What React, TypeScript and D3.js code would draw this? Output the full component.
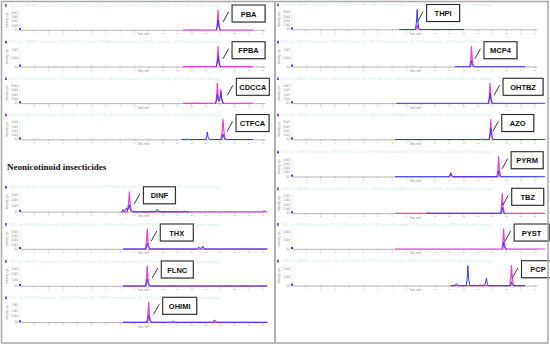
import React from "react";
import * as d3 from "d3";

type Pt = [number, number];

// ---------- DATA ----------
const leftNames = ["PBA", "FPBA", "CDCCA", "CTFCA", "DINF", "THX", "FLNC", "OHIMI"];
const rightNames = ["THPI", "MCP4", "OHTBZ", "AZO", "PYRM", "TBZ", "PYST", "PCP"];

const leftPeakTimes = [13.85, 13.85, 13.8, 14.2, 7.65, 8.9, 8.9, 9.0];
const rightPeakTimes = [8.75, 12.55, 13.85, 13.9, 14.45, 14.7, 14.8, 15.35];

const sectionTitle = "Neonicotinoid insecticides";
const xTickValues = [1, 2, 3, 4, 5, 6, 7, 8, 9, 10, 11, 12, 13, 14, 15, 16, 17];

// quantifier transition (pink) per panel
const leftPink: Pt[][] = [
  [[11.4, 0], [12.5, 0.01], [12.6, 0], [13.73, 0], [13.8, 0.35], [13.85, 1], [13.9, 0.4], [13.97, 0.06], [14.05, 0], [16.3, 0]],
  [[11.4, 0], [13.73, 0], [13.8, 0.35], [13.85, 1], [13.9, 0.4], [13.97, 0.06], [14.05, 0], [16.3, 0]],
  [[11.4, 0], [12.6, 0.01], [12.7, 0], [13.68, 0], [13.75, 0.35], [13.8, 1], [13.86, 0.3], [13.93, 0.12], [13.99, 0.32], [14.05, 0.68], [14.1, 0.25], [14.18, 0.03], [14.25, 0], [16.3, 0]],
  [[14.05, 0], [14.13, 0.35], [14.2, 1], [14.26, 0.4], [14.33, 0.06], [14.4, 0]],
  [[7.1, 0], [7.5, 0], [7.58, 0.35], [7.65, 1], [7.7, 0.4], [7.78, 0.05], [7.9, 0], [10.2, 0.01], [10.3, 0], [17.0, 0], [17.08, 0.06], [17.15, 0], [17.3, 0]],
  [[7.2, 0], [8.77, 0], [8.84, 0.35], [8.9, 1], [8.95, 0.35], [9.03, 0.05], [9.1, 0], [17.3, 0]],
  [[7.2, 0], [8.77, 0], [8.84, 0.35], [8.9, 1], [8.95, 0.35], [9.03, 0.05], [9.1, 0], [17.3, 0]],
  [[7.2, 0], [8.87, 0], [8.94, 0.35], [9.0, 1], [9.05, 0.35], [9.13, 0.05], [9.2, 0], [17.3, 0]],
];

// qualifier transition (blue) per panel
const leftBlue: Pt[][] = [
  [[13.73, 0], [13.8, 0.18], [13.85, 0.5], [13.9, 0.2], [13.97, 0.03], [14.05, 0]],
  [[13.73, 0], [13.8, 0.2], [13.85, 0.55], [13.9, 0.22], [13.97, 0.03], [14.05, 0]],
  [[13.68, 0], [13.75, 0.15], [13.8, 0.45], [13.86, 0.14], [13.93, 0.1], [13.99, 0.25], [14.05, 0.55], [14.1, 0.2], [14.18, 0.02], [14.25, 0]],
  [[11.3, 0], [11.8, 0.01], [11.9, 0], [13.0, 0], [13.05, 0.12], [13.1, 0.38], [13.15, 0.12], [13.22, 0.02], [13.3, 0], [14.1, 0], [14.15, 0.1], [14.2, 0.28], [14.26, 0.1], [14.35, 0], [16.3, 0]],
  [[7.1, 0], [7.15, 0.06], [7.2, 0.12], [7.25, 0.03], [7.35, 0.05], [7.45, 0.2], [7.52, 0.06], [7.58, 0.18], [7.65, 0.35], [7.72, 0.1], [7.85, 0], [9.0, 0], [9.1, 0.03], [9.2, 0], [9.5, 0.02], [9.6, 0.12], [9.7, 0.03], [9.85, 0], [11.4, 0], [11.5, 0.03], [11.6, 0], [11.8, 0]],
  [[7.2, 0], [8.8, 0], [8.85, 0.12], [8.9, 0.3], [8.96, 0.12], [9.05, 0.02], [9.15, 0], [12.35, 0], [12.45, 0.08], [12.5, 0.1], [12.57, 0.03], [12.7, 0.05], [12.78, 0.15], [12.85, 0.04], [12.95, 0], [17.3, 0]],
  [[7.2, 0], [8.8, 0], [8.85, 0.14], [8.9, 0.35], [8.96, 0.12], [9.05, 0.02], [9.15, 0], [12.55, 0], [12.6, 0.02], [12.65, 0], [17.3, 0]],
  [[7.2, 0], [8.9, 0], [8.95, 0.14], [9.0, 0.35], [9.06, 0.12], [9.15, 0.02], [9.25, 0], [10.6, 0], [10.7, 0.05], [10.8, 0], [13.5, 0], [13.6, 0.12], [13.7, 0.02], [13.8, 0], [17.3, 0]],
];

const rightPink: Pt[][] = [
  [[8.65, 0], [8.7, 0.08], [8.75, 0.22], [8.8, 0.08], [8.88, 0]],
  [[12.43, 0], [12.5, 0.35], [12.55, 1], [12.6, 0.4], [12.67, 0.05], [12.75, 0]],
  [[13.73, 0], [13.8, 0.35], [13.85, 1], [13.9, 0.4], [13.97, 0.05], [14.05, 0]],
  [[13.78, 0], [13.85, 0.35], [13.9, 1], [13.95, 0.4], [14.02, 0.05], [14.1, 0]],
  [[10.98, 0], [11.05, 0.06], [11.1, 0.15], [11.16, 0.05], [11.25, 0], [14.33, 0], [14.4, 0.35], [14.45, 1], [14.5, 0.4], [14.57, 0.05], [14.65, 0]],
  [[7.2, 0], [14.58, 0], [14.65, 0.35], [14.7, 1], [14.75, 0.4], [14.82, 0.05], [14.9, 0], [17.7, 0]],
  [[7.2, 0], [14.68, 0], [14.75, 0.35], [14.8, 1], [14.85, 0.4], [14.92, 0.05], [15.0, 0], [17.7, 0]],
  [[11.1, 0], [15.23, 0], [15.3, 0.35], [15.35, 1], [15.4, 0.4], [15.47, 0.05], [15.55, 0], [16.3, 0]],
];

const rightBlue: Pt[][] = [
  [[7.5, 0], [8.63, 0], [8.7, 0.35], [8.75, 1], [8.8, 0.4], [8.87, 0.05], [8.95, 0], [12.0, 0]],
  [[11.4, 0], [12.48, 0], [12.52, 0.1], [12.55, 0.3], [12.6, 0.1], [12.68, 0.02], [12.75, 0], [16.3, 0]],
  [[7.3, 0], [13.75, 0], [13.8, 0.18], [13.85, 0.5], [13.9, 0.2], [13.97, 0.03], [14.05, 0], [17.7, 0]],
  [[7.2, 0], [13.2, 0], [13.3, 0.03], [13.4, 0], [13.8, 0], [13.85, 0.2], [13.9, 0.55], [13.95, 0.2], [14.02, 0.03], [14.1, 0], [17.7, 0]],
  [[7.2, 0], [10.98, 0], [11.05, 0.08], [11.1, 0.2], [11.16, 0.07], [11.25, 0], [14.38, 0], [14.42, 0.1], [14.45, 0.3], [14.5, 0.1], [14.57, 0.02], [14.65, 0], [17.7, 0]],
  [[9.4, 0], [9.5, 0.02], [9.6, 0], [14.63, 0], [14.67, 0.1], [14.7, 0.3], [14.75, 0.1], [14.82, 0.02], [14.9, 0]],
  [[14.73, 0], [14.77, 0.12], [14.8, 0.35], [14.85, 0.12], [14.92, 0.02], [15.0, 0]],
  [[11.1, 0], [11.4, 0], [11.5, 0.1], [11.6, 0.03], [11.7, 0], [12.18, 0], [12.25, 0.35], [12.3, 1], [12.35, 0.35], [12.42, 0.05], [12.5, 0], [12.8, 0.02], [12.9, 0], [13.2, 0.03], [13.3, 0], [13.5, 0.05], [13.6, 0.38], [13.66, 0.08], [13.75, 0], [15.3, 0], [15.35, 0.2], [15.4, 0.06], [15.5, 0], [16.3, 0]],
];

const leftYTicks: string[][] = [
  ["0.0", "2.0e5", "4.0e5", "6.0e5", "8.0e5"],
  ["0.0", "5.0e4", "1.0e5"],
  ["0.0", "2.0e4", "4.0e4", "6.0e4", "8.0e4"],
  ["0.0", "1.0e4", "2.0e4", "3.0e4", "4.0e4"],
  ["0.0", "1.0e5", "2.0e5", "3.0e5"],
  ["0.0", "2.0e5", "4.0e5", "6.0e5", "8.0e5"],
  ["0.0", "1.0e5", "2.0e5", "3.0e5"],
  ["0.0", "5.0e4", "1.0e5", "1.5e5"],
];
const rightYTicks: string[][] = [
  ["0.0", "2.0e4", "4.0e4", "6.0e4", "8.0e4"],
  ["0.0", "5.0e4", "1.0e5"],
  ["0.0", "1.0e5", "2.0e5", "3.0e5", "4.0e5"],
  ["0.0", "2.0e5", "4.0e5", "6.0e5", "8.0e5"],
  ["0.0", "1.0e5", "2.0e5", "3.0e5", "4.0e5"],
  ["0.0", "5.0e4", "1.0e5", "1.5e5", "2.0e5"],
  ["0.0", "2.0e4", "4.0e4"],
  ["0.0", "1.0e4", "2.0e4"],
];

const leftTransitions = ["213.0/169.0", "231.0/187.0", "279.0/235.0", "241.0/197.0", "203.1/129.1", "292.0/211.0", "214.0/158.0", "272.0/225.0"];
const rightTransitions = ["152.0/82.0", "199.0/141.0", "218.0/191.0", "404.1/372.1", "299.0/72.0", "202.0/175.0", "296.1/226.1", "264.9/34.9"];

// ---------- LAYOUT ----------
const leftBaselines = [30, 66.7, 103.3, 139.5, 211.8, 249, 286, 322.3];
const rightBaselines = [29.5, 66.7, 103.3, 139.5, 176.7, 213.3, 249, 285.7];
const leftBoxDx = [14, 14, 19, 13, 14, 13, 14, 14];
const leftBoxW = [33, 33, 33, 33, 32, 33, 32, 34];
const rightBoxDx = [9.5, 12.5, 13, 11, 12.5, 9.5, 10.5, 10];
const rightBoxW = [33, 33, 40, 32, 32, 32, 35, 33];

const PINK = "#f03fd2";
const BLUE = "#3838f0";
const AXIS = "#9a9a9a";
const PX_PER_MIN = 14.3;

type PanelProps = {
  name: string;
  baseline: number;
  x0: number;
  pink: Pt[];
  blue: Pt[];
  peak: number;
  boxDx: number;
  boxW: number;
  yTicks: string[];
  transition: string;
  idx: number;
};

function Panel(p: PanelProps) {
  const x = d3.scaleLinear().domain([0, 17]).range([p.x0, p.x0 + 17 * PX_PER_MIN]);
  const y = d3.scaleLinear().domain([0, 1]).range([p.baseline, p.baseline - 20]);
  const line = d3
    .line<Pt>()
    .x((d) => x(d[0]))
    .y((d) => y(d[1]));
  const px = x(p.peak);
  const bx = px + p.boxDx;
  const by = p.baseline - 25;
  const n = p.yTicks.length;
  return (
    <g>
      {/* header */}
      <rect x={p.x0 - 15} y={p.baseline - 26} width={2} height={1.3} fill={PINK} />
      <rect x={p.x0 - 15} y={p.baseline - 24.7} width={2} height={1.3} fill={BLUE} />
      <text
        x={p.x0 - 10}
        y={p.baseline - 23.5}
        fontSize={3.2}
        fill="#d0eedc"
        fontFamily="Liberation Sans, Arial, sans-serif"
        textLength={210}
        lengthAdjust="spacingAndGlyphs"
      >
        {`XIC of -MRM (16 pairs): ${p.transition} Da ID: ${p.name} from Sample ${p.idx + 3} (STD) of Data_2019.wiff (Turbo Spray)`}
      </text>
      {/* y axis */}
      <line x1={p.x0} x2={p.x0} y1={p.baseline - 20} y2={p.baseline} stroke="#d8d8d8" strokeWidth={0.5} />
      {p.yTicks.map((t, i) => (
        <text
          key={i}
          x={p.x0 - 2}
          y={p.baseline - (i * 17) / Math.max(1, n - 1) + 0.8}
          fontSize={2.6}
          fill="#888"
          textAnchor="end"
          fontFamily="Liberation Sans, Arial, sans-serif"
        >
          {t}
        </text>
      ))}
      <text
        transform={`translate(${p.x0 - 12.5},${p.baseline - 10}) rotate(-90)`}
        fontSize={2.6}
        fill="#888"
        textAnchor="middle"
        fontFamily="Liberation Sans, Arial, sans-serif"
      >
        Intensity, cps
      </text>
      {/* x axis */}
      <line x1={p.x0} x2={x(17.15)} y1={p.baseline + 0.3} y2={p.baseline + 0.3} stroke={AXIS} strokeWidth={0.7} />
      {xTickValues.map((t) => (
        <g key={t}>
          <line x1={x(t)} x2={x(t)} y1={p.baseline} y2={p.baseline + 1.6} stroke={AXIS} strokeWidth={0.6} />
          <text
            x={x(t)}
            y={p.baseline + 4}
            fontSize={2.4}
            fill="#999"
            textAnchor="middle"
            fontFamily="Liberation Sans, Arial, sans-serif"
          >
            {t}
          </text>
        </g>
      ))}
      <text
        x={x(8.6)}
        y={p.baseline + 5.3}
        fontSize={2.6}
        fill="#888"
        textAnchor="middle"
        fontFamily="Liberation Sans, Arial, sans-serif"
      >
        Time, min
      </text>
      {/* traces */}
      <rect x={p.x0 - 1} y={p.baseline - 2} width={2} height={2} fill={BLUE} />
      <path d={line(p.pink) || ""} fill="none" stroke={PINK} strokeWidth={1.2} strokeLinejoin="round" />
      <path d={line(p.blue) || ""} fill="none" stroke={BLUE} strokeWidth={1} strokeLinejoin="round" />
      {/* label */}
      <line x1={bx - 9} y1={p.baseline - 8} x2={bx - 3.5} y2={p.baseline - 18} stroke="#222" strokeWidth={0.9} />
      <rect x={bx + 0.8} y={by + 0.8} width={p.boxW} height={17} fill="#c8c8c8" />
      <rect x={bx} y={by} width={p.boxW} height={17} fill="#fff" stroke="#2a2a2a" strokeWidth={1.1} />
      <text
        x={bx + p.boxW / 2}
        y={by + 11.5}
        fontSize={7.5}
        fontWeight="bold"
        textAnchor="middle"
        fill="#111"
        fontFamily="Liberation Sans, Arial, sans-serif"
      >
        {p.name}
      </text>
    </g>
  );
}

export default function App() {
  return (
    <svg
      width={550}
      height={346}
      viewBox="0 0 550 346"
      style={{ position: "fixed", left: 0, top: 0, background: "#fff" }}
    >
      <rect x={0} y={0} width={550} height={346} fill="#fff" />
      {leftNames.map((n, i) => (
        <Panel
          key={n}
          name={n}
          idx={i}
          baseline={leftBaselines[i]}
          x0={20}
          pink={leftPink[i]}
          blue={leftBlue[i]}
          peak={leftPeakTimes[i]}
          boxDx={leftBoxDx[i]}
          boxW={leftBoxW[i]}
          yTicks={leftYTicks[i]}
          transition={leftTransitions[i]}
        />
      ))}
      {rightNames.map((n, i) => (
        <Panel
          key={n}
          name={n}
          idx={i + 8}
          baseline={rightBaselines[i]}
          x0={292}
          pink={rightPink[i]}
          blue={rightBlue[i]}
          peak={rightPeakTimes[i]}
          boxDx={rightBoxDx[i]}
          boxW={rightBoxW[i]}
          yTicks={rightYTicks[i]}
          transition={rightTransitions[i]}
        />
      ))}
      <text x={7} y={170} fontSize={9} fontWeight="bold" fill="#111" fontFamily="Liberation Serif, Times New Roman, serif">
        {sectionTitle}
      </text>
      {/* frame */}
      <rect x={1.5} y={1.5} width={546.5} height={341.5} fill="none" stroke="#a8a8a8" strokeWidth={1.5} />
      <line x1={275} x2={275} y1={1.5} y2={343} stroke="#a8a8a8" strokeWidth={1.8} />
    </svg>
  );
}
